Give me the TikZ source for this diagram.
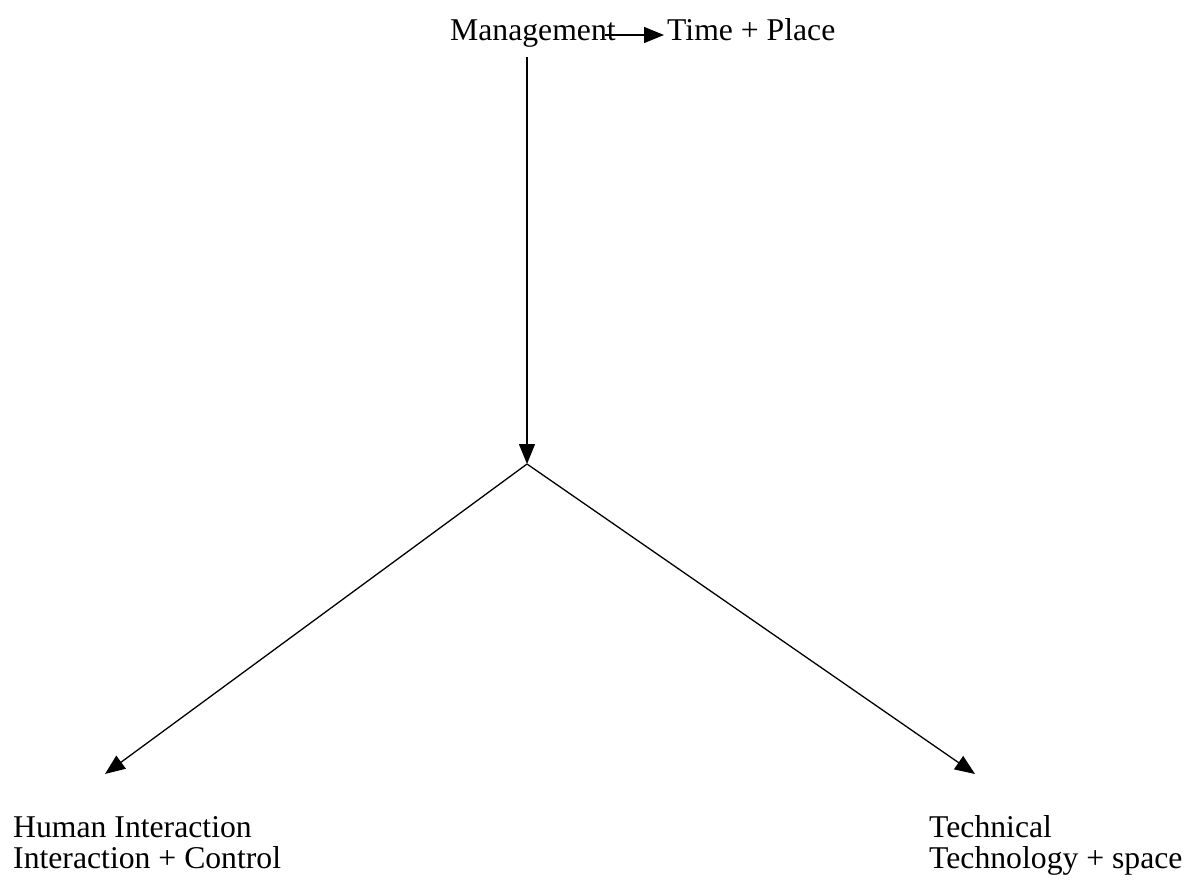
\documentclass[tikz,border=0pt]{standalone}
\usepackage{fontspec}
\setmainfont{Liberation Serif}
\usetikzlibrary{arrows.meta}
\begin{document}
\begin{tikzpicture}[x=1pt,y=-1pt,
  lbl/.style={inner sep=0pt,anchor=base west,font=\fontsize{31.7}{31}\selectfont,align=left},
  conn/.style={line width=1.3pt,-{Triangle[length=20pt,width=16pt]}}]
\useasboundingbox (0,0) rectangle (1184,879);
\node[lbl] (mgmt) at (450,40) {Management};
\node[lbl] (tp) at (667,40) {Time + Place};
\node[lbl] (hum) at (13,868) {Human Interaction\\Interaction + Control};
\node[lbl] (tec) at (929,868) {Technical\\Technology + space};
\coordinate (mstart) at (527,57);
\coordinate (arrA) at (605,35);
\coordinate (arrB) at (664,35);
\coordinate (junc) at (527,464);
\coordinate (ltip) at (105,774);
\coordinate (rtip) at (975,774);
\draw[conn] (arrA) -- (arrB);
\draw[conn] (mstart) -- (junc);
\draw[conn] (junc) -- (ltip);
\draw[conn] (junc) -- (rtip);
\end{tikzpicture}
\end{document}
